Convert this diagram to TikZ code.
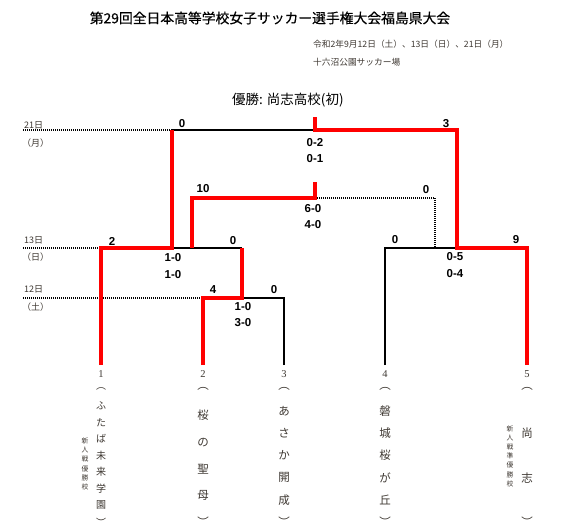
\documentclass[tikz,border=0pt]{standalone}
\usepackage{fontspec}
\usepackage{tikz}
\usepackage{xcolor}
\usetikzlibrary{positioning, calc}
\setmainfont{Noto Sans CJK JP}
\newfontfamily\titlefont[FakeBold=0.5]{Noto Sans CJK JP}
\newfontfamily\scorefont{Liberation Sans}
\newfontfamily\numfont{Liberation Serif}
\definecolor{winred}{RGB}{255,0,0}
\definecolor{inkgray}{RGB}{62,56,50}

\begin{document}
\begin{tikzpicture}[
  x=1pt, y=-1pt,
  winline/.style={draw=winred, line width=4pt},
  loseline/.style={draw=black, line width=2pt},
  dayline/.style={draw=black, line width=1.5pt, dash pattern=on 1pt off 1pt},
  score/.style={inner sep=0pt, font=\scorefont\bfseries\fontsize{11.5}{12}\selectfont},
  daylabel/.style={inner sep=0pt, anchor=west, text=inkgray, font=\fontsize{9}{10}\selectfont},
  info/.style={inner sep=0pt, anchor=west, text=inkgray, font=\fontsize{8.7}{10}\selectfont},
  teamnum/.style={inner sep=0pt, text=inkgray, font=\numfont\fontsize{10.5}{11}\selectfont},
  teamchar/.style={inner sep=0pt, text=inkgray, font=\fontsize{#1}{#1}\selectfont},
  memo/.style={inner sep=0pt, text=inkgray, font=\fontsize{6.8}{7}\selectfont},
]
\useasboundingbox (0,0) rectangle (561,527);

% headings
\node[inner sep=0pt, font=\titlefont\fontsize{13.8}{14}\selectfont] (title) at (270,18) {第29回全日本高等学校女子サッカー選手権大会福島県大会};
\node[info] (date) at (313,44) {令和2年9月12日（土）、13日（日）、21日（月）};
\node[info] (venue) at (313,62) {十六沼公園サッカー場};
\node[inner sep=0pt, anchor=west, font=\fontsize{13.5}{14}\selectfont] (champ) at (232,100) {優勝: 尚志高校(初)};

% days
\node[daylabel] (day21) at (24,125) {21日};
\node[daylabel] (wd21) at (22,143) {（月）};
\node[daylabel] (day13) at (24,240) {13日};
\node[daylabel] (wd13) at (22,257) {（日）};
\node[daylabel] (day12) at (24,289) {12日};
\node[daylabel] (wd12) at (22,307) {（土）};

% bracket points
\coordinate (t1) at (101,365);
\coordinate (t2) at (203,365);
\coordinate (t3) at (284,365);
\coordinate (t4) at (385,365);
\coordinate (t5) at (527,365);
\coordinate (r12) at (242,298);
\coordinate (r13a) at (172,248);
\coordinate (r13b) at (457,248);
\coordinate (rsb) at (192,248);
\coordinate (rs) at (315,198);
\coordinate (rd) at (435,248);
\coordinate (rf) at (315,130);
\coordinate (d21) at (23,130);
\coordinate (d13) at (23,248);
\coordinate (d12) at (23,298);

% dotted day lines
\draw[dayline] (d21) -- (r13a |- rf);
\draw[dayline] (d13) -- (t1 |- r13a);
\draw[dayline] (d12) -- (t2 |- r12);
\draw[dayline] (rs) -| (rd);

% losers
\draw[loseline] (t3) |- (r12);
\draw[loseline] (t4) |- (r13b);
\draw[loseline] (r13a) -- (r13a -| r12);
\draw[loseline] (r13a |- rf) -- (rf);

% winners
\draw[winline] (t1) |- (r13a) -- (r13a |- rf);
\draw[winline] (t2) |- (r12) -- (r12 |- r13a);
\draw[winline] (rsb) |- (rs) -- ++(0,-16);
\draw[winline] (t5) |- (r13b) |- (rf) -- ++(0,-13);

% scores
\node[score] (sf1) at (182,124) {0};
\node[score] (sf2) at (446,124) {3};
\node[score] (sf3) at (315,143) {0-2};
\node[score] (sf4) at (315,159) {0-1};
\node[score] (ss1) at (203,189) {10};
\node[score] (ss2) at (426,190) {0};
\node[score] (ss3) at (313,209) {6-0};
\node[score] (ss4) at (313,225) {4-0};
\node[score] (sa1) at (112,241) {2};
\node[score] (sa2) at (233,241) {0};
\node[score] (sa3) at (173,258) {1-0};
\node[score] (sa4) at (173,275) {1-0};
\node[score] (sc1) at (213,290) {4};
\node[score] (sc2) at (274,290) {0};
\node[score] (sc3) at (243,307) {1-0};
\node[score] (sc4) at (243,323) {3-0};
\node[score] (sb1) at (395,240) {0};
\node[score] (sb2) at (516,240) {9};
\node[score] (sb3) at (455,257) {0-5};
\node[score] (sb4) at (455,274) {0-4};

% teams
\foreach \tx/\tn/\tk/\ts/\tnames in {101/1/8/10/{︵,ふ,た,ば,未,来,学,園,︶},
    203/2/5/11.5/{︵,桜,の,聖,母,︶},
    284/3/6/11.5/{︵,あ,さ,か,開,成,︶},
    385/4/6/11.5/{︵,磐,城,桜,が,丘,︶},
    527/5/3/11.5/{︵,尚,志,︶}}
{
  \node[teamnum] (n\tn) at (\tx,374) {\tn};
  \foreach \c [count=\i from 0] in \tnames
    \node[teamchar=\ts] (name\tn-\i) at (\tx,{389+\i*133/\tk}) {\c};
}

% notes
\foreach \c [count=\i from 0] in {新,人,戦,優,勝,校}
  \node[memo] (memoa\i) at (85,{441+\i*9.2}) {\c};
\foreach \c [count=\i from 0] in {新,人,戦,準,優,勝,校}
  \node[memo] (memob\i) at (510,{429+\i*9.1}) {\c};
\end{tikzpicture}
\end{document}
